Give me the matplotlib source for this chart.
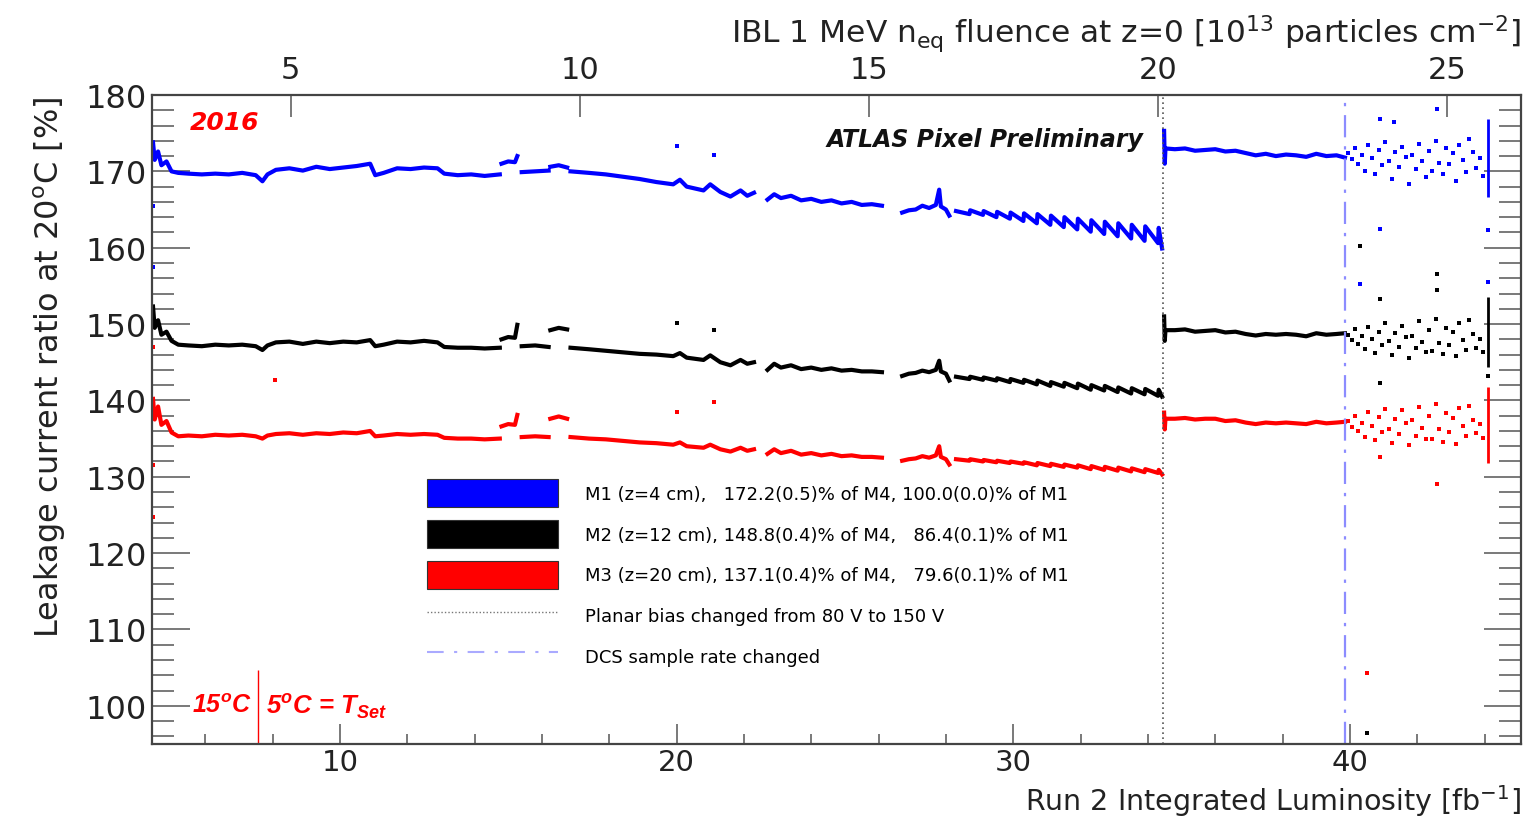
import numpy as np
import matplotlib
matplotlib.use("Agg")
import matplotlib.pyplot as plt
from matplotlib.patches import Patch
from matplotlib.lines import Line2D
from matplotlib.ticker import MultipleLocator, NullLocator

nan = np.nan

# ---------------- data ----------------
# integrated luminosity [fb^-1], segments separated by NaN gaps
lumi = [4.45, 4.5, 4.6, 4.7, 4.85, 5.0, 5.2, 5.5, 5.9, 6.3, 6.7, 7.1, 7.5, 7.7, 7.85, 8.1, 8.5, 8.9, 9.3, 9.7,
        10.1, 10.5, 10.9, 11.05, 11.3, 11.7, 12.1, 12.5, 12.9, 13.1, 13.5, 13.9, 14.3, 14.75, nan,
        14.8, 15.0, 15.2, 15.27, nan,
        15.4, 15.8, 16.2, nan,
        16.25, 16.5, 16.75, nan,
        16.85, 17.4, 17.9, 18.4, 18.9, 19.4, 19.9, 20.1, 20.3, 20.8, 21.0, 21.3, 21.6, 21.9, 22.1, 22.3, nan,
        22.7, 22.9, 23.1, 23.4, 23.7, 24.0, 24.3, 24.6, 24.9, 25.2, 25.5, 25.8, 26.1, nan,
        26.7, 26.9, 27.1, 27.3, 27.5, 27.7, 27.8, 27.85, 28.0, 28.1, nan,
        28.3, 28.7, 28.72, 29.1, 29.12, 29.5, 29.52, 29.9, 29.92, 30.3, 30.32, 30.7, 30.72, 31.1, 31.12, 31.5,
        31.52, 31.9, 31.92, 32.3, 32.32, 32.7, 32.72, 33.1, 33.12, 33.5, 33.52, 33.9, 33.92, 34.3, 34.32, 34.42, nan,
        34.48, 34.5, 34.52, 34.8, 35.1, 35.4, 35.7, 36.0, 36.3, 36.6, 36.9, 37.2, 37.5, 37.8, 38.1, 38.4, 38.7,
        39.0, 39.3, 39.6, 39.85]

m1 = [173.8, 171.5, 172.6, 170.8, 171.3, 170.0, 169.8, 169.7, 169.6, 169.7, 169.6, 169.8, 169.5, 168.7, 169.6,
      170.2, 170.4, 170.1, 170.6, 170.3, 170.5, 170.7, 171.0, 169.5, 169.8, 170.4, 170.3, 170.5, 170.4, 169.7,
      169.5, 169.6, 169.4, 169.6, nan,
      171.0, 171.3, 171.2, 172.0, nan,
      169.9, 170.0, 170.1, nan,
      170.6, 170.8, 170.5, nan,
      170.0, 169.8, 169.6, 169.3, 169.0, 168.6, 168.3, 168.9, 168.0, 167.5, 168.3, 167.3, 166.7, 167.5, 166.8, 167.2, nan,
      166.3, 167.0, 166.5, 166.8, 166.2, 166.4, 166.0, 166.2, 165.8, 166.0, 165.6, 165.7, 165.5, nan,
      164.6, 164.9, 165.0, 165.5, 165.2, 165.6, 167.6, 165.4, 165.0, 164.2, nan,
      164.8, 164.4, 164.9, 164.3, 164.8, 164.0, 164.7, 163.8, 164.6, 163.5, 164.5, 163.2, 164.4, 163.0, 164.2, 162.7,
      164.0, 162.4, 163.8, 162.1, 163.6, 161.8, 163.4, 161.5, 163.2, 161.2, 163.0, 160.9, 162.8, 160.6, 162.6, 159.9, nan,
      175.3, 171.0, 173.0, 172.9, 173.0, 172.7, 172.8, 172.9, 172.6, 172.7, 172.4, 172.1, 172.3, 172.0, 172.2,
      172.1, 171.9, 172.3, 172.0, 172.1, 171.8]

m2 = [152.3, 149.5, 150.5, 148.6, 149.0, 147.8, 147.3, 147.2, 147.1, 147.3, 147.2, 147.3, 147.1, 146.6, 147.2,
      147.6, 147.7, 147.4, 147.7, 147.5, 147.7, 147.6, 147.9, 147.1, 147.3, 147.7, 147.6, 147.8, 147.6, 147.0,
      146.9, 146.9, 146.8, 146.9, nan,
      148.0, 148.3, 148.2, 149.9, nan,
      147.1, 147.2, 147.0, nan,
      149.2, 149.5, 149.3, nan,
      146.9, 146.7, 146.5, 146.3, 146.1, 146.0, 145.8, 146.2, 145.6, 145.3, 145.9, 145.0, 144.6, 145.3, 144.8, 145.0, nan,
      144.0, 144.8, 144.3, 144.6, 144.1, 144.3, 144.0, 144.2, 143.9, 144.0, 143.8, 143.8, 143.7, nan,
      143.2, 143.5, 143.6, 143.9, 143.7, 144.0, 145.2, 143.8, 143.5, 142.6, nan,
      143.1, 142.8, 143.1, 142.7, 143.0, 142.6, 142.9, 142.4, 142.8, 142.3, 142.7, 142.1, 142.6, 141.9, 142.4, 141.8,
      142.3, 141.6, 142.2, 141.4, 142.0, 141.3, 141.9, 141.1, 141.7, 140.9, 141.6, 140.8, 141.5, 140.6, 141.4, 140.5, nan,
      151.0, 147.8, 149.2, 149.2, 149.3, 149.0, 149.1, 149.2, 148.9, 149.0, 148.7, 148.5, 148.7, 148.6, 148.7,
      148.6, 148.4, 148.8, 148.6, 148.7, 148.8]

m3 = [140.2, 137.5, 139.2, 136.8, 137.3, 135.8, 135.3, 135.4, 135.3, 135.5, 135.4, 135.5, 135.3, 135.0, 135.4,
      135.6, 135.7, 135.5, 135.7, 135.6, 135.8, 135.7, 136.0, 135.3, 135.4, 135.6, 135.5, 135.6, 135.5, 135.1,
      135.0, 135.0, 134.9, 135.0, nan,
      136.6, 136.9, 136.8, 138.1, nan,
      135.2, 135.3, 135.2, nan,
      137.6, 137.9, 137.6, nan,
      135.2, 135.0, 134.9, 134.7, 134.5, 134.4, 134.2, 134.5, 134.0, 133.8, 134.2, 133.6, 133.3, 133.8, 133.4, 133.6, nan,
      133.0, 133.6, 133.1, 133.4, 132.9, 133.1, 132.8, 133.0, 132.7, 132.8, 132.6, 132.6, 132.5, nan,
      132.1, 132.3, 132.4, 132.7, 132.5, 132.8, 134.0, 132.6, 132.3, 131.6, nan,
      132.3, 132.1, 132.3, 132.0, 132.2, 131.9, 132.1, 131.8, 132.0, 131.7, 131.9, 131.5, 131.8, 131.4, 131.7, 131.3,
      131.6, 131.2, 131.5, 131.0, 131.4, 130.9, 131.3, 130.8, 131.2, 130.7, 131.1, 130.6, 131.0, 130.5, 130.9, 130.3, nan,
      138.4, 136.2, 137.6, 137.6, 137.7, 137.5, 137.6, 137.6, 137.3, 137.4, 137.1, 136.9, 137.1, 137.0, 137.1,
      137.0, 136.9, 137.2, 137.0, 137.1, 137.2]

# scattered readings after the DCS sample-rate change
lumi_sparse = [39.95, 40.05, 40.15, 40.25, 40.35, 40.45, 40.55, 40.65, 40.75, 40.85, 40.95, 41.05, 41.15, 41.25,
               41.35, 41.45, 41.55, 41.65, 41.75, 41.85, 41.95, 42.05, 42.15, 42.25, 42.35, 42.45, 42.55, 42.65,
               42.75, 42.85, 42.95, 43.05, 43.15, 43.25, 43.35, 43.45, 43.55, 43.65, 43.75, 43.85, 43.95]
m1_sparse = [172.4, 171.6, 173.1, 171.0, 172.2, 170.1, 173.4, 171.7, 169.6, 172.8, 170.8, 173.8, 171.3, 169.0,
             172.5, 170.6, 173.2, 171.9, 168.4, 172.1, 170.3, 173.6, 171.4, 169.3, 172.7, 170.0, 174.0, 171.1,
             169.7, 173.0, 170.9, 172.4, 168.8, 173.5, 171.5, 169.9, 174.3, 172.6, 170.4, 171.8, 169.4]
m2_sparse = [148.6, 147.9, 149.3, 147.4, 148.4, 146.7, 149.6, 148.0, 146.2, 149.0, 147.2, 150.1, 147.8, 145.9,
             148.8, 147.0, 149.8, 148.3, 145.6, 148.5, 146.8, 150.4, 147.6, 146.4, 149.2, 146.5, 150.7, 147.5,
             146.1, 149.5, 147.3, 148.9, 145.8, 150.2, 147.9, 146.6, 150.5, 148.7, 146.9, 148.1, 146.3]
m3_sparse = [137.3, 136.5, 138.0, 136.0, 137.1, 135.2, 138.5, 136.7, 134.8, 137.8, 135.9, 138.9, 136.3, 134.4,
             137.6, 135.6, 138.7, 137.0, 134.1, 137.4, 135.4, 139.2, 136.4, 134.9, 137.9, 135.0, 139.5, 136.2,
             134.6, 138.3, 135.8, 137.7, 134.3, 139.0, 136.6, 135.3, 139.3, 137.5, 135.7, 136.9, 135.1]

# isolated outlier readings
m1_out_lumi = [4.45, 4.45, 20.0, 21.1, 40.3, 40.9, 40.9, 41.3, 42.6, 44.1, 44.1]
m1_out = [165.5, 157.5, 173.3, 172.1, 155.2, 176.8, 162.4, 176.5, 178.2, 162.3, 155.5]
m2_out_lumi = [20.0, 21.1, 40.3, 40.5, 40.9, 40.9, 42.6, 42.6, 44.1]
m2_out = [150.2, 149.2, 160.2, 96.4, 153.3, 142.3, 156.5, 154.5, 143.2]
m3_out_lumi = [4.45, 4.45, 4.45, 8.07, 20.0, 21.1, 40.5, 40.9, 42.6]
m3_out = [147.0, 131.5, 124.7, 142.7, 138.5, 139.8, 104.3, 132.6, 129.1]

# spread of the last readings (vertical streak at the end)
end_lumi = 44.1
m1_end = [166.7, 176.8]
m2_end = [144.4, 153.6]
m3_end = [131.8, 141.8]

# events
bias_change_lumi = 34.44
dcs_change_lumi = 39.85
tset_change_lumi = 7.56
tset_line_range = [95.0, 104.7]

fluence_ticks = [5, 10, 15, 20, 25]
fluence_per_fb = 0.5825
fluence_offset = 0.0233

labels = ["M1 (z=4 cm),   172.2(0.5)% of M4, 100.0(0.0)% of M1",
          "M2 (z=12 cm), 148.8(0.4)% of M4,   86.4(0.1)% of M1",
          "M3 (z=20 cm), 137.1(0.4)% of M4,   79.6(0.1)% of M1",
          "Planar bias changed from 80 V to 150 V",
          "DCS sample rate changed"]

# ---------------- drawing ----------------
W, H = 1526, 820
fig = plt.figure(figsize=(W / 100, H / 100), dpi=100)
ax = fig.add_axes([152 / W, 1 - 745 / H, (1521 - 152) / W, (745 - 96) / H])
ax.set_xlim(4.42, 45.08)
ax.set_ylim(95, 180)

series = [(m1, m1_sparse, m1_out_lumi, m1_out, m1_end, "#0000ff"),
          (m2, m2_sparse, m2_out_lumi, m2_out, m2_end, "#000000"),
          (m3, m3_sparse, m3_out_lumi, m3_out, m3_end, "#ff0000")]
for vals, sp, olx, oly, endr, c in series:
    ax.plot(lumi, vals, color=c, lw=3.0, solid_joinstyle="round")
    ax.plot(lumi_sparse, sp, ls="none", marker="s", ms=2.6, mew=0, color=c)
    ax.plot(olx, oly, ls="none", marker="s", ms=2.4, mew=0, color=c)
    ax.vlines(end_lumi, endr[0], endr[1], color=c, lw=2)

ax.axvline(bias_change_lumi, color="#555555", ls=(0, (1, 2)), lw=1.2)
ax.axvline(dcs_change_lumi, color="#8c8cff", ls=(0, (10, 4, 1.5, 4)), lw=1.6)
ax.vlines(tset_change_lumi, tset_line_range[0], tset_line_range[1], color="red", lw=1)

tick_font = "DejaVu Sans"
ax.xaxis.set_major_locator(MultipleLocator(10))
ax.xaxis.set_minor_locator(MultipleLocator(2))
ax.yaxis.set_major_locator(MultipleLocator(10))
ax.yaxis.set_minor_locator(MultipleLocator(2))
ax.tick_params(axis="x", which="major", direction="in", length=14.5, width=1.1, color="#555555",
               bottom=True, top=False, labelsize=21, pad=3, labelcolor="#222222")
ax.tick_params(axis="x", which="minor", direction="in", length=7.5, width=1.1, color="#555555",
               bottom=True, top=False)
ax.tick_params(axis="y", which="major", direction="in", length=27, width=1.1, color="#555555",
               left=True, right=True, labelsize=23, pad=4, labelcolor="#222222")
ax.tick_params(axis="y", which="minor", direction="in", length=16, width=1.1, color="#555555",
               left=True, right=True)
for lab in ax.get_xticklabels() + ax.get_yticklabels():
    lab.set_family(tick_font)
for sp in ax.spines.values():
    sp.set_linewidth(1.6)
    sp.set_color("#444444")

sec = ax.secondary_xaxis("top", functions=(lambda L: fluence_per_fb * np.asarray(L) + fluence_offset,
                                           lambda F: (np.asarray(F) - fluence_offset) / fluence_per_fb))
sec.set_xticks(fluence_ticks)
sec.xaxis.set_minor_locator(NullLocator())
sec.tick_params(direction="in", length=16, width=1.1, color="#555555", labelsize=22, pad=8,
                labelcolor="#222222")
for lab in sec.get_xticklabels():
    lab.set_family(tick_font)
sec.spines["top"].set_visible(False)

lab_font = "DejaVu Sans"
fig.text(50 / W, 1 - 97 / H, "Leakage current ratio at 20$^{\\mathregular{o}}$C [%]", rotation=90,
         ha="center", va="top", fontsize=23, family=lab_font, color="#222222")
fig.text(1521 / W, 1 - 819 / H, "Run 2 Integrated Luminosity [fb$^{\\mathregular{-1}}$]", ha="right",
         va="bottom", fontsize=20.5, family=lab_font, color="#222222")
fig.text(1521 / W, 1 - 34 / H,
         "IBL 1 MeV n$_{\\mathregular{eq}}$ fluence at z=0 [10$^{\\mathregular{13}}$ particles cm$^{\\mathregular{-2}}$]",
         ha="right", va="center", fontsize=22.5, family=lab_font, color="#222222")

fig.text(1143 / W, 1 - 140 / H, "ATLAS Pixel Preliminary", ha="right", va="center", fontsize=17,
         fontweight="bold", style="italic", family="DejaVu Sans", color="#111111")
fig.text(190 / W, 1 - 123 / H, "2016", ha="left", va="center", fontsize=18, fontweight="bold",
         style="italic", family="DejaVu Sans", color="red")
fig.text(252 / W, 1 - 706 / H, "15$^{\\mathregular{o}}$C", ha="right", va="center", fontsize=18,
         fontweight="bold", style="italic", family="Liberation Sans", color="red")
fig.text(266 / W, 1 - 706 / H, "5$^{\\mathregular{o}}$C = T$_{\\mathregular{Set}}$", ha="left", va="center",
         fontsize=18.5, fontweight="bold", style="italic", family="Liberation Sans", color="red")

handles = [Patch(facecolor="#0000ff", edgecolor="#333333", lw=0.8),
           Patch(facecolor="#000000", edgecolor="#333333", lw=0.8),
           Patch(facecolor="#ff0000", edgecolor="#333333", lw=0.8),
           Line2D([], [], color="#777777", ls=(0, (1, 1.5)), lw=1),
           Line2D([], [], color="#aaaaff", ls=(0, (8, 5, 1.5, 5)), lw=1.5)]
fig.legend(handles, labels, loc="upper left", bbox_to_anchor=(427 / W, 1 - 480 / H),
           bbox_transform=fig.transFigure, frameon=False, borderpad=0, borderaxespad=0,
           handlelength=7.25, handleheight=2.0, labelspacing=0.72, handletextpad=1.5,
           prop=dict(family="DejaVu Sans", size=13))

fig.savefig("out.png", dpi=100, facecolor="white")
